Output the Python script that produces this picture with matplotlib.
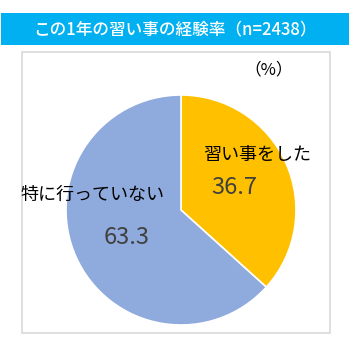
import matplotlib
matplotlib.use("Agg")
import matplotlib.pyplot as plt
from matplotlib.patches import Rectangle

plt.rcParams["font.family"] = ["Noto Sans CJK JP", "DejaVu Sans"]

# ---------------- Dados ----------------
title = "この1年の習い事の経験率（n=2438）"
labels = ["習い事をした", "特に行っていない"]
values = [36.7, 63.3]
colors = ["#FFC000", "#8FAADC"]

W, H = 351, 352
fig = plt.figure(figsize=(W / 100, H / 100), dpi=100)

def fx(x):
    return x / W

def fy(y):
    return 1 - y / H

# barra do título
fig.patches.append(Rectangle((fx(1), fy(45)), fx(348), 32 / H, transform=fig.transFigure,
                             facecolor="#00B0F0", edgecolor="none"))
fig.text(fx(175), fy(29), title, color="white", fontsize=12, fontweight="medium",
         ha="center", va="center")

# moldura da área do gráfico
fig.patches.append(Rectangle((fx(22), fy(333)), fx(308), 281 / H, transform=fig.transFigure,
                             facecolor="none", edgecolor="#D9D9D9", linewidth=1.2))
fig.text(fx(269), fy(70), "（%）", fontsize=12, color="black", ha="center", va="center")

# pizza
cx, cy, r = 181, 210, 115
ax = fig.add_axes([fx(cx - r), fy(cy + r), 2 * r / W, 2 * r / H])
ax.pie(values, colors=colors, startangle=90, counterclock=False,
       wedgeprops=dict(edgecolor="white", linewidth=1.2))
ax.set_aspect("auto")
ax.set_xlim(-1, 1)
ax.set_ylim(-1, 1)
ax.axis("off")

# rótulos
fig.text(fx(257), fy(155), labels[0], fontsize=13, ha="center", va="center")
fig.text(fx(234), fy(187), f"{values[0]}", fontsize=17, color="#404040", ha="center", va="center")
fig.text(fx(92), fy(195), labels[1], fontsize=13, ha="center", va="center")
fig.text(fx(127), fy(237), f"{values[1]}", fontsize=17, color="#404040", ha="center", va="center")

fig.savefig("out.png", dpi=100)
